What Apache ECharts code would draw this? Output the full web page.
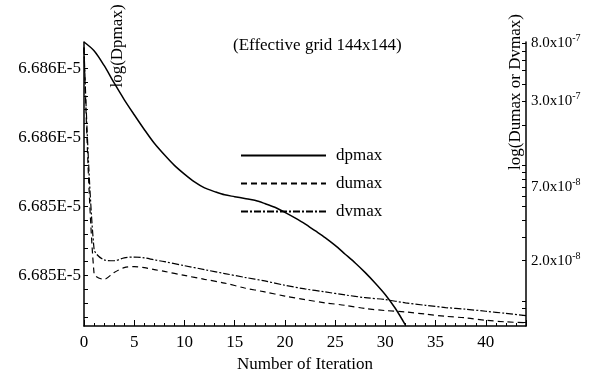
<!DOCTYPE html>
<html>
<head>
<meta charset="utf-8">
<script src="https://cdn.jsdelivr.net/npm/echarts@6/dist/echarts.min.js"></script>
<style>html,body{margin:0;padding:0;background:#fff}#c{width:600px;height:378px}</style>
</head>
<body>
<div id="c"></div>
<script>
// ---- data ----
const dpIter = [0,1,2,3,4,5,6,7,8,9,10,11,12,13,14,15,16,17,18,19,20,21,22,23,24,25,26,27,28,29,30,31,32];
// dpmax in units of 1E-5
const dpmax = [6.685807,6.685788,6.685756,6.685718,6.685682,6.685649,6.685617,6.685587,6.685562,6.685539,
  6.685520,6.685503,6.685490,6.685482,6.685475,6.685471,6.685467,6.685463,6.685456,6.685448,
  6.685437,6.685425,6.685412,6.685397,6.685382,6.685365,6.685346,6.685327,6.685306,6.685283,
  6.685258,6.685228,6.685192];
const uvIter = [0,1,2,3,4,5,6,7,8,10,12,14,16,18,20,22,24,26,28,30,32,34,36,38,40,42,44];
const dumax = [7.4e-7,1.61e-8,1.46e-8,1.64e-8,1.78e-8,1.81e-8,1.78e-8,1.72e-8,1.67e-8,1.56e-8,1.46e-8,1.37e-8,
  1.26e-8,1.18e-8,1.10e-8,1.035e-8,9.8e-9,9.4e-9,8.9e-9,8.6e-9,8.4e-9,8.1e-9,7.8e-9,7.6e-9,7.3e-9,7.1e-9,7.0e-9];
const dvmax = [7.4e-7,2.44e-8,2.03e-8,2.00e-8,2.10e-8,2.13e-8,2.10e-8,2.03e-8,1.97e-8,1.84e-8,1.72e-8,1.61e-8,
  1.51e-8,1.42e-8,1.32e-8,1.24e-8,1.18e-8,1.12e-8,1.07e-8,1.035e-8,9.8e-9,9.4e-9,9.05e-9,8.8e-9,8.5e-9,8.2e-9,7.9e-9];
const xTickLabels = ['0','5','10','15','20','25','30','35','40'];
const leftTickValues = [6.68530,6.68545,6.68560,6.68575];
const leftTickLabels = ['6.685E-5','6.685E-5','6.686E-5','6.686E-5'];
const rightTickValues = [2.0e-8,7.0e-8,3.0e-7,8.0e-7];
const rightTickMant = ['2.0','7.0','3.0','8.0'];
const rightTickExp = ['-8','-8','-7','-7'];

const FONT = 'Liberation Serif';
const leftMin = 6.685190, leftMax = 6.685807;
const rightMin = -8.179, rightMax = -6.090;

// minor ticks for left axis (subdivide label spacing by 5)
const leftStep = (leftTickValues[1]-leftTickValues[0])/5;
const leftMinor = [];
for (let v = leftTickValues[0] - leftStep*3; v <= leftMax + 1e-12; v += leftStep) if (v >= leftMin) leftMinor.push(+v.toFixed(7));
// log ticks for right axis
const rightMinor = [];
for (let e = -9; e <= -6; e++) for (let m = 1; m <= 9; m++) {
  const lv = Math.log10(m * Math.pow(10, e));
  if (lv >= rightMin && lv <= rightMax) rightMinor.push(lv);
}
const rightLog = rightTickValues.map(v => Math.log10(v));

const chart = echarts.init(document.getElementById('c'), null, {renderer: 'canvas'});
chart.setOption({
  animation: false,
  backgroundColor: '#fff',
  textStyle: {fontFamily: FONT, color: '#000'},
  grid: {left: 84, right: 74, top: 42, bottom: 44},
  title: {text: '(Effective grid 144x144)', left: 228, top: 32,
    textStyle: {fontFamily: FONT, fontSize: 17, fontWeight: 'normal', color: '#000'}},
  legend: {
    left: 240, top: 147, orient: 'vertical', itemWidth: 85, itemHeight: 14, itemGap: 11,
    padding: 0, itemStyle: {opacity: 0},
    textStyle: {fontFamily: FONT, fontSize: 17, color: '#000', padding: [0,0,0,5]},
    data: ['dpmax','dumax','dvmax']
  },
  xAxis: {
    type: 'value', min: 0, max: 44, interval: 5,
    name: 'Number of Iteration', nameLocation: 'middle', nameGap: 30,
    nameTextStyle: {fontFamily: FONT, fontSize: 17, color: '#000'},
    axisLine: {lineStyle: {color: '#000', width: 1.5}},
    axisTick: {inside: true, length: 6, lineStyle: {color: '#000'}},
    minorTick: {show: true, splitNumber: 5, length: 3, lineStyle: {color: '#000'}},
    splitLine: {show: false},
    axisLabel: {fontFamily: FONT, fontSize: 17, color: '#000', margin: 8, showMaxLabel: false,
      formatter: v => xTickLabels.indexOf(String(v)) >= 0 ? String(v) : ''}
  },
  yAxis: [{
    type: 'value', min: leftMin, max: leftMax, position: 'left',
    axisLine: {show: true, lineStyle: {color: '#000', width: 1.5}},
    axisTick: {show: true, inside: true, length: 4, customValues: leftMinor, lineStyle: {color: '#000'}},
    splitLine: {show: false},
    axisLabel: {fontFamily: FONT, fontSize: 17, color: '#000', margin: 3, customValues: leftTickValues,
      formatter: v => { const i = leftTickValues.findIndex(t => Math.abs(t - v) < 1e-9); return i >= 0 ? leftTickLabels[i] : ''; }}
  }, {
    type: 'value', min: rightMin, max: rightMax, position: 'right',
    axisLine: {show: true, lineStyle: {color: '#000', width: 1.5}},
    axisTick: {show: true, inside: true, length: 4, customValues: rightMinor, lineStyle: {color: '#000'}},
    splitLine: {show: false},
    axisLabel: {fontFamily: FONT, fontSize: 15, color: '#000', margin: 5, customValues: rightLog,
      formatter: v => { const i = rightLog.findIndex(t => Math.abs(t - v) < 1e-6); return i >= 0 ? '{m|' + rightTickMant[i] + 'x10}{s|' + rightTickExp[i] + '}' : ''; },
      rich: {m: {fontFamily: FONT, fontSize: 15, color: '#000'}, s: {fontFamily: FONT, fontSize: 10, color: '#000', padding: [0,0,9,0]}}}
  }],
  graphic: [
    {type: 'text', x: 118, y: 46, rotation: Math.PI/2,
      style: {text: 'log(Dpmax)', font: '17px "Liberation Serif"', fill: '#000', textAlign: 'center', textVerticalAlign: 'middle'}},
    {type: 'text', x: 516, y: 92, rotation: Math.PI/2,
      style: {text: 'log(Dumax or Dvmax)', font: '17px "Liberation Serif"', fill: '#000', textAlign: 'center', textVerticalAlign: 'middle'}}
  ],
  series: [
    {name: 'dpmax', type: 'line', yAxisIndex: 0, symbol: 'none', smooth: 0.3, clip: true,
      lineStyle: {color: '#000', width: 1.5, type: 'solid'}, itemStyle: {color: '#000'},
      data: dpIter.map((x, i) => [x, dpmax[i]])},
    {name: 'dumax', type: 'line', yAxisIndex: 1, symbol: 'none', smooth: 0.3, clip: true,
      lineStyle: {color: '#000', width: 1.2, type: [6, 4]}, itemStyle: {color: '#000'},
      data: uvIter.map((x, i) => [x, Math.log10(dumax[i])])},
    {name: 'dvmax', type: 'line', yAxisIndex: 1, symbol: 'none', smooth: 0.3, clip: true,
      lineStyle: {color: '#000', width: 1.2, type: [7, 2, 2, 2]}, itemStyle: {color: '#000'},
      data: uvIter.map((x, i) => [x, Math.log10(dvmax[i])])}
  ]
});
</script>
</body>
</html>
